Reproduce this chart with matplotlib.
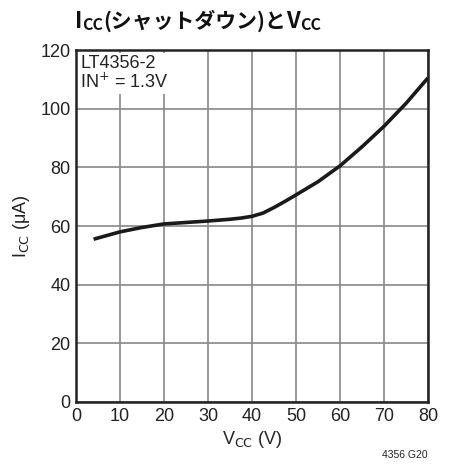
import matplotlib
matplotlib.use('Agg')
import matplotlib.pyplot as plt

plt.rcParams['font.family'] = ['Liberation Sans Narrow', 'Liberation Sans', 'DejaVu Sans']
plt.rcParams['mathtext.fontset'] = 'custom'
plt.rcParams['mathtext.rm'] = 'Liberation Sans Narrow'
plt.rcParams['mathtext.it'] = 'Liberation Sans Narrow'

vcc = [4, 10, 15, 20, 25, 30, 35, 37.5, 40, 42.5, 45, 47.5, 50, 55, 60, 65, 70, 75, 80]
icc = [55.5, 58.0, 59.5, 60.7, 61.2, 61.7, 62.3, 62.7, 63.3, 64.4, 66.3, 68.4, 70.6, 75.1, 80.5, 87.0, 94.0, 101.8, 110.5]
x_ticks = [0, 10, 20, 30, 40, 50, 60, 70, 80]
y_ticks = [0, 20, 40, 60, 80, 100, 120]
title_parts = [('I', 16, 0), ('CC', 11.5, -2.5), ('(シャットダウン)と', 15, 0), ('V', 16, 0), ('CC', 11.5, -2.5)]

fig = plt.figure(figsize=(4.51, 4.68), dpi=100)
ax = fig.add_axes([76 / 451, 66 / 468, 352 / 451, 352 / 468])
ax.plot(vcc, icc, color='#1a1a1a', linewidth=2.6, solid_capstyle='butt', solid_joinstyle='round', zorder=3)
ax.set_xlim(0, 80)
ax.set_ylim(0, 120)
ax.set_xticks(x_ticks)
ax.set_yticks(y_ticks)
ax.grid(color='#888888', linewidth=1.2)
ax.tick_params(length=0, labelsize=13, pad=4, colors='#222222')
for s in ax.spines.values():
    s.set_linewidth(1.8)
    s.set_color('#222222')

ax.set_xlabel('V$_{\\mathrm{CC}}$ (V)', fontsize=13, labelpad=3, color='#222222')
ax.set_ylabel('I$_{\\mathrm{CC}}$ (μA)', fontsize=13, labelpad=6, color='#222222')

ax.text(0.012, 0.985, 'LT4356-2\nIN$^{+}$ = 1.3V', transform=ax.transAxes, va='top', ha='left',
        fontsize=13, linespacing=1.0, color='#222222', zorder=2,
        bbox=dict(facecolor='white', edgecolor='none', pad=2))

fig.text(428 / 451, 8 / 468, '4356 G20', ha='right', va='bottom', fontsize=7.5, color='#222222')

# title: pieces laid out one after another on a common baseline
tfam = ['Liberation Sans Narrow', 'Noto Sans CJK JP']
fig.canvas.draw()
renderer = fig.canvas.get_renderer()
x = 75
base_y = 440
for txt, size, dy in title_parts:
    t = fig.text(x / 451, (base_y + dy) / 468, txt, fontsize=size, fontweight='bold',
                 family=tfam, va='baseline', ha='left', color='#111111')
    x += t.get_window_extent(renderer).width

plt.savefig('out.png', dpi=100)
